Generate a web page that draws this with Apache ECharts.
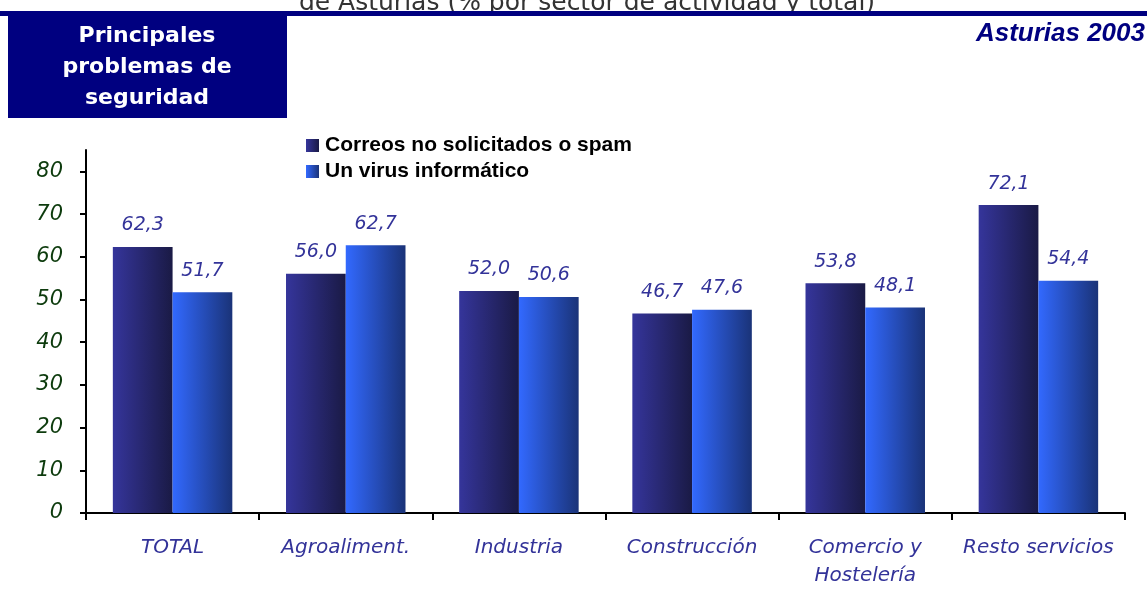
<!DOCTYPE html>
<html>
<head>
<meta charset="utf-8">
<script src="https://cdn.jsdelivr.net/npm/echarts@6/dist/echarts.min.js"></script>
<style>
html,body{margin:0;padding:0;background:#fff;}
#chart{width:1147px;height:601px;}
</style>
</head>
<body>
<div id="chart"></div>
<script>
var categories = ['TOTAL', 'Agroaliment.', 'Industria', 'Construcción', 'Comercio y\nHostelería', 'Resto servicios'];
var seriesNames = ['Correos no solicitados o spam', 'Un virus informático'];
var spam = [62.3, 56.0, 52.0, 46.7, 53.8, 72.1];
var virus = [51.7, 62.7, 50.6, 47.6, 48.1, 54.4];
var yTicks = [0, 10, 20, 30, 40, 50, 60, 70, 80];

var myChart = echarts.init(document.getElementById('chart'));

function grad(c1, c2) {
    return new echarts.graphic.LinearGradient(0, 0, 1, 0, [
        {offset: 0, color: c1},
        {offset: 1, color: c2}
    ]);
}

var labelStyle = {
    show: true,
    position: 'top',
    distance: 12,
    color: '#333399',
    fontFamily: 'DejaVu Sans',
    fontStyle: 'italic',
    fontSize: 19,
    formatter: function (p) {
        return p.value.toFixed(1).replace('.', ',');
    }
};

myChart.setOption({
    animation: false,
    graphic: [
        {
            type: 'text', z: 1,
            style: {
                text: 'de Asturias (% por sector de actividad y total)',
                x: 587, y: 3,
                align: 'center', verticalAlign: 'middle',
                fill: '#333', fontSize: 25, fontFamily: 'DejaVu Sans'
            }
        },
        {type: 'rect', z: 2, shape: {x: 0, y: 11, width: 1147, height: 5}, style: {fill: '#000080'}},
        {type: 'rect', z: 2, shape: {x: 8, y: 11, width: 279, height: 107}, style: {fill: '#000080'}},
        {
            type: 'text', z: 3,
            style: {
                text: 'Principales\nproblemas de\nseguridad',
                x: 147, y: 67, align: 'center', verticalAlign: 'middle',
                lineHeight: 31,
                fill: '#fff', fontSize: 22, fontWeight: 'bold', fontFamily: 'DejaVu Sans'
            }
        },
        {
            type: 'text', z: 3,
            style: {
                text: 'Asturias 2003',
                x: 1145, y: 34, align: 'right', verticalAlign: 'middle',
                fill: '#000080', fontSize: 26, fontWeight: 'bold', fontStyle: 'italic',
                fontFamily: 'Liberation Sans'
            }
        }
    ],
    legend: {
        orient: 'vertical',
        left: 306,
        top: 135,
        padding: 0,
        itemWidth: 13,
        itemHeight: 13,
        itemGap: 5,
        icon: 'rect',
        textStyle: {
            color: '#000',
            fontSize: 21,
            fontWeight: 'bold',
            fontFamily: 'Liberation Sans',
            padding: [0, 0, 0, 1]
        },
        data: seriesNames
    },
    grid: {left: 86, right: 22, top: 150, bottom: 88},
    xAxis: {
        type: 'category',
        data: categories,
        axisLine: {lineStyle: {color: '#000', width: 2}},
        axisTick: {show: true, alignWithLabel: false, interval: 0, length: 7, lineStyle: {color: '#000', width: 2}},
        axisLabel: {
            interval: 0,
            margin: 21,
            lineHeight: 28,
            color: '#333399',
            fontStyle: 'italic',
            fontSize: 20,
            fontFamily: 'DejaVu Sans'
        }
    },
    yAxis: {
        type: 'value',
        min: 0,
        max: 85,
        interval: 10,
        splitLine: {show: false},
        axisLine: {show: true, lineStyle: {color: '#000', width: 2}},
        axisTick: {show: true, length: 6, customValues: yTicks, lineStyle: {color: '#000', width: 2}},
        axisLabel: {
            customValues: yTicks,
            margin: 23,
            color: '#0d3b0d',
            fontStyle: 'italic',
            fontSize: 21,
            fontFamily: 'DejaVu Sans'
        }
    },
    series: [
        {
            name: seriesNames[0],
            type: 'bar',
            data: spam,
            barGap: '0%',
            barCategoryGap: '31%',
            itemStyle: {color: grad('#35359b', '#1a1a45')},
            label: labelStyle
        },
        {
            name: seriesNames[1],
            type: 'bar',
            data: virus,
            barGap: '0%',
            barCategoryGap: '31%',
            itemStyle: {color: grad('#3269ff', '#1a3378')},
            label: labelStyle
        }
    ]
});
</script>
</body>
</html>
